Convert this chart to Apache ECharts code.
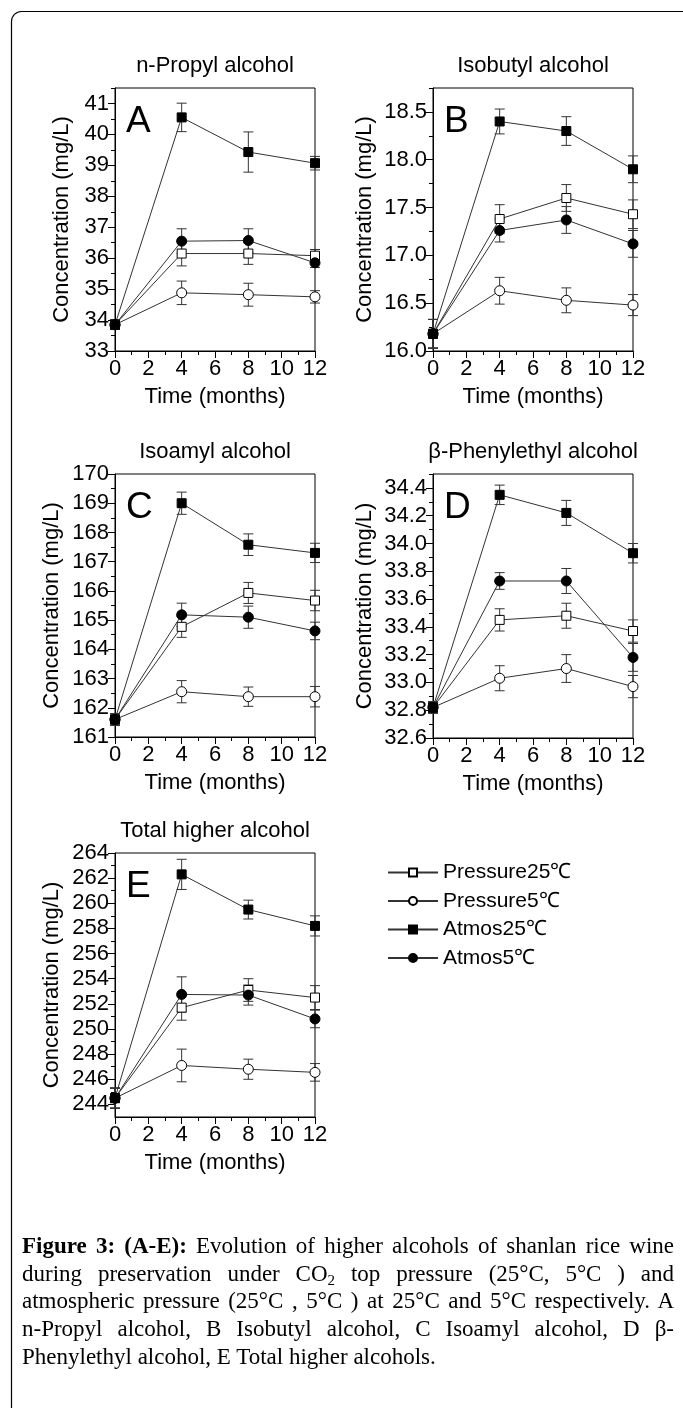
<!DOCTYPE html>
<html>
<head>
<meta charset="utf-8">
<script src="https://cdn.jsdelivr.net/npm/echarts@6/dist/echarts.min.js"></script>
<style>
html,body{margin:0;padding:0;background:#fff;}
#wrap{position:relative;width:683px;height:1408px;overflow:hidden;}
#chart{position:absolute;left:0;top:0;width:683px;height:1408px;}
#caption{position:absolute;left:22px;top:1232px;width:652px;font-family:"Liberation Serif","Times New Roman",serif;font-size:23px;line-height:27.7px;color:#000;}
#caption .ln{text-align:justify;text-align-last:justify;height:27.7px;}
#caption .ln.last{text-align-last:left;}
#caption b{font-weight:bold;}
#caption sub{font-size:15px;line-height:0;vertical-align:-4px;}
</style>
</head>
<body>
<div id="wrap">
<div id="chart"></div>
<div id="caption">
<div class="ln"><b>Figure 3: (A-E):</b> Evolution of higher alcohols of shanlan rice wine</div>
<div class="ln">during preservation under CO<sub>2</sub> top pressure (25°C, 5°C ) and</div>
<div class="ln">atmospheric pressure (25°C , 5°C ) at 25°C and 5°C respectively. A</div>
<div class="ln">n-Propyl alcohol, B Isobutyl alcohol, C Isoamyl alcohol, D β-</div>
<div class="ln last">Phenylethyl alcohol, E Total higher alcohols.</div>
</div>
</div>
<script>
// ---------------- data ----------------
const months = [0, 4, 8, 12];
const seriesNames = ['Pressure25℃', 'Pressure5℃', 'Atmos25℃', 'Atmos5℃'];
const panelTitles = ['n-Propyl alcohol', 'Isobutyl alcohol', 'Isoamyl alcohol', 'β-Phenylethyl alcohol', 'Total higher alcohol'];
const panelLetters = ['A', 'B', 'C', 'D', 'E'];

// Panel A: n-Propyl alcohol
const A_p25 = [33.85, 36.15, 36.15, 36.08];
const A_p25_err = [0.15, 0.40, 0.35, 0.20];
const A_p5 = [33.85, 34.88, 34.82, 34.75];
const A_p5_err = [0.15, 0.38, 0.37, 0.20];
const A_a25 = [33.85, 40.55, 39.43, 39.07];
const A_a25_err = [0.15, 0.46, 0.65, 0.22];
const A_a5 = [33.85, 36.55, 36.57, 35.85];
const A_a5_err = [0.15, 0.40, 0.38, 0.15];
const A_ticks = ['33', '34', '35', '36', '37', '38', '39', '40', '41'];

// Panel B: Isobutyl alcohol
const B_p25 = [16.18, 17.38, 17.60, 17.43];
const B_p25_err = [0.15, 0.15, 0.14, 0.15];
const B_p5 = [16.18, 16.63, 16.53, 16.48];
const B_p5_err = [0.15, 0.14, 0.13, 0.11];
const B_a25 = [16.18, 18.40, 18.30, 17.90];
const B_a25_err = [0.15, 0.13, 0.15, 0.14];
const B_a5 = [16.18, 17.26, 17.37, 17.12];
const B_a5_err = [0.15, 0.12, 0.14, 0.14];
const B_ticks = ['16.0', '16.5', '17.0', '17.5', '18.0', '18.5'];

// Panel C: Isoamyl alcohol
const C_p25 = [161.6, 164.77, 165.93, 165.67];
const C_p25_err = [0.2, 0.36, 0.36, 0.35];
const C_p5 = [161.6, 162.55, 162.38, 162.38];
const C_p5_err = [0.2, 0.38, 0.33, 0.35];
const C_a25 = [161.6, 169.0, 167.58, 167.3];
const C_a25_err = [0.2, 0.38, 0.37, 0.33];
const C_a5 = [161.6, 165.18, 165.1, 164.63];
const C_a5_err = [0.2, 0.40, 0.38, 0.30];
const C_ticks = ['161', '162', '163', '164', '165', '166', '167', '168', '169', '170'];

// Panel D: beta-Phenylethyl alcohol
const D_p25 = [32.82, 33.45, 33.48, 33.37];
const D_p25_err = [0.04, 0.08, 0.09, 0.08];
const D_p5 = [32.82, 33.03, 33.10, 32.97];
const D_p5_err = [0.04, 0.09, 0.10, 0.08];
const D_a25 = [32.82, 34.35, 34.22, 33.93];
const D_a25_err = [0.04, 0.07, 0.09, 0.07];
const D_a5 = [32.82, 33.73, 33.73, 33.18];
const D_a5_err = [0.04, 0.06, 0.09, 0.10];
const D_ticks = ['32.6', '32.8', '33.0', '33.2', '33.4', '33.6', '33.8', '34.0', '34.2', '34.4'];

// Panel E: Total higher alcohol
const E_p25 = [244.5, 251.7, 253.1, 252.5];
const E_p25_err = [0.8, 1.0, 0.9, 0.95];
const E_p5 = [244.5, 247.1, 246.8, 246.55];
const E_p5_err = [0.8, 1.3, 0.8, 0.7];
const E_a25 = [244.5, 262.3, 259.5, 258.2];
const E_a25_err = [0.8, 1.2, 0.75, 0.8];
const E_a5 = [244.5, 252.75, 252.7, 250.8];
const E_a5_err = [0.8, 1.4, 0.8, 0.7];
const E_ticks = ['244', '246', '248', '250', '252', '254', '256', '258', '260', '262', '264'];

// axis ranges per panel
const yMin = [33, 16, 161, 32.6, 243];
const yMax = [41.5, 18.75, 170, 34.5, 264];

// ---------------- layout ----------------
const grids = [
  {left: 115, top: 88, width: 200, height: 263},
  {left: 433, top: 88, width: 200, height: 263},
  {left: 115, top: 474, width: 200, height: 263},
  {left: 433, top: 474, width: 200, height: 264},
  {left: 115, top: 853, width: 200, height: 264}
];
const yNameGaps = [42, 57, 52, 57, 52];
const panelVals = [
  [A_p25, A_p5, A_a25, A_a5],
  [B_p25, B_p5, B_a25, B_a5],
  [C_p25, C_p5, C_a25, C_a5],
  [D_p25, D_p5, D_a25, D_a5],
  [E_p25, E_p5, E_a25, E_a5]
];
const panelErrs = [
  [A_p25_err, A_p5_err, A_a25_err, A_a5_err],
  [B_p25_err, B_p5_err, B_a25_err, B_a5_err],
  [C_p25_err, C_p5_err, C_a25_err, C_a5_err],
  [D_p25_err, D_p5_err, D_a25_err, D_a5_err],
  [E_p25_err, E_p5_err, E_a25_err, E_a5_err]
];
const panelTicks = [A_ticks, B_ticks, C_ticks, D_ticks, E_ticks];

const FONT = '"Liberation Sans", Arial, Helvetica, sans-serif';
const INK = '#000';
const LINE = '#333';

const symbolDefs = [
  {symbol: 'rect', size: 9, fill: '#fff'},
  {symbol: 'circle', size: 10, fill: '#fff'},
  {symbol: 'rect', size: 9, fill: '#000'},
  {symbol: 'circle', size: 10, fill: '#000'}
];

function minorOf(ticks, max) {
  const v = ticks.map(Number);
  const step = v[1] - v[0];
  const out = [];
  for (let i = 0; i < v.length; i++) {
    const m = +(v[i] + step / 2).toFixed(4);
    if (m <= max + 1e-9) out.push(m);
  }
  return out;
}

const xAxes = [], yAxes = [], series = [], graphics = [];

grids.forEach((g, gi) => {
  xAxes.push({
    gridIndex: gi, type: 'value', min: 0, max: 12, interval: 2,
    axisLine: {show: true, onZero: false, lineStyle: {color: INK, width: 1}},
    axisTick: {show: true, inside: false, length: 7, lineStyle: {color: INK, width: 1}},
    minorTick: {show: true, splitNumber: 2, length: 4, lineStyle: {color: INK, width: 1}},
    splitLine: {show: false}, minorSplitLine: {show: false},
    axisLabel: {color: INK, fontSize: 22, fontFamily: FONT, margin: 7},
    name: 'Time (months)', nameLocation: 'middle', nameGap: 35,
    nameTextStyle: {color: INK, fontSize: 22, fontFamily: FONT}
  });
  const ticks = panelTicks[gi];
  const tickVals = ticks.map(Number);
  yAxes.push({
    gridIndex: gi, type: 'value', min: yMin[gi], max: yMax[gi], position: 'left',
    axisLine: {show: true, onZero: false, lineStyle: {color: INK, width: 1}},
    axisTick: {show: true, inside: false, length: 7, customValues: tickVals, lineStyle: {color: INK, width: 1}},
    axisLabel: {
      color: INK, fontSize: 22, fontFamily: FONT, margin: 6, customValues: tickVals,
      formatter: (val) => {
        const idx = tickVals.findIndex(t => Math.abs(t - val) < 1e-6);
        return idx >= 0 ? ticks[idx] : '';
      }
    },
    splitLine: {show: false},
    name: 'Concentration (mg/L)', nameLocation: 'middle', nameGap: yNameGaps[gi],
    nameTextStyle: {color: INK, fontSize: 22, fontFamily: FONT}
  });
  yAxes.push({
    gridIndex: gi, type: 'value', min: yMin[gi], max: yMax[gi], position: 'left', offset: 0,
    axisLine: {show: false},
    axisTick: {show: true, inside: false, length: 4, customValues: minorOf(ticks, yMax[gi]), lineStyle: {color: INK, width: 1}},
    axisLabel: {show: false},
    splitLine: {show: false}
  });

  // error bars
  panelVals[gi].forEach((vals, si) => {
    const errs = panelErrs[gi][si];
    series.push({
      type: 'custom', xAxisIndex: gi, yAxisIndex: gi * 2, z: 2, silent: true,
      clip: false,
      data: months.map((m, i) => [m, vals[i] - errs[i], vals[i] + errs[i]]),
      renderItem: (params, api) => {
        const x = api.value(0);
        const top = api.coord([x, api.value(2)]);
        const bot = api.coord([x, api.value(1)]);
        const hw = 5;
        const st = {stroke: LINE, lineWidth: 1, fill: null};
        return {
          type: 'group',
          children: [
            {type: 'line', shape: {x1: top[0], y1: top[1], x2: bot[0], y2: bot[1]}, style: st},
            {type: 'line', shape: {x1: top[0] - hw, y1: top[1], x2: top[0] + hw, y2: top[1]}, style: st},
            {type: 'line', shape: {x1: bot[0] - hw, y1: bot[1], x2: bot[0] + hw, y2: bot[1]}, style: st}
          ]
        };
      }
    });
  });
  // lines with markers
  panelVals[gi].forEach((vals, si) => {
    const sd = symbolDefs[si];
    series.push({
      type: 'line', name: seriesNames[si], xAxisIndex: gi, yAxisIndex: gi * 2,
      z: 3 + si, clip: false, animation: false,
      data: months.map((m, i) => [m, vals[i]]),
      symbol: sd.symbol, symbolSize: sd.size, showAllSymbol: true,
      lineStyle: {color: LINE, width: 1},
      itemStyle: {color: sd.fill, borderColor: '#000', borderWidth: 1, opacity: 1},
      emphasis: {disabled: true}
    });
  });

  // panel title
  graphics.push({
    type: 'text', x: g.left + g.width / 2, y: g.top - 22,
    style: {text: panelTitles[gi], fill: INK, font: '22px ' + FONT,
      align: 'center', verticalAlign: 'middle', textAlign: 'center', textVerticalAlign: 'middle'}
  });
  // panel letter
  graphics.push({
    type: 'text', x: g.left + 11, y: g.top + 34,
    style: {text: panelLetters[gi], fill: INK, font: '37px ' + FONT,
      align: 'left', verticalAlign: 'middle', textAlign: 'left', textVerticalAlign: 'middle'}
  });
});

// outer frame
graphics.push({
  type: 'rect', z: -1,
  shape: {x: 11.5, y: 11.5, width: 720, height: 1440, r: 10},
  style: {stroke: '#000', lineWidth: 1.2, fill: null}
});

const chart = echarts.init(document.getElementById('chart'), null, {renderer: 'canvas'});
chart.setOption({
  animation: false,
  backgroundColor: '#fff',
  grid: grids.map(g => Object.assign({show: true, borderColor: '#000', borderWidth: 1, backgroundColor: 'transparent', containLabel: false}, g)),
  xAxis: xAxes,
  yAxis: yAxes,
  legend: {
    orient: 'vertical', left: 387, top: 862, padding: 0,
    itemWidth: 50, itemHeight: 10, itemGap: 7.5,
    data: seriesNames,
    textStyle: {color: INK, fontSize: 21, fontFamily: FONT},
    selectedMode: false
  },
  graphic: graphics,
  series: series
});
</script>
</body>
</html>
